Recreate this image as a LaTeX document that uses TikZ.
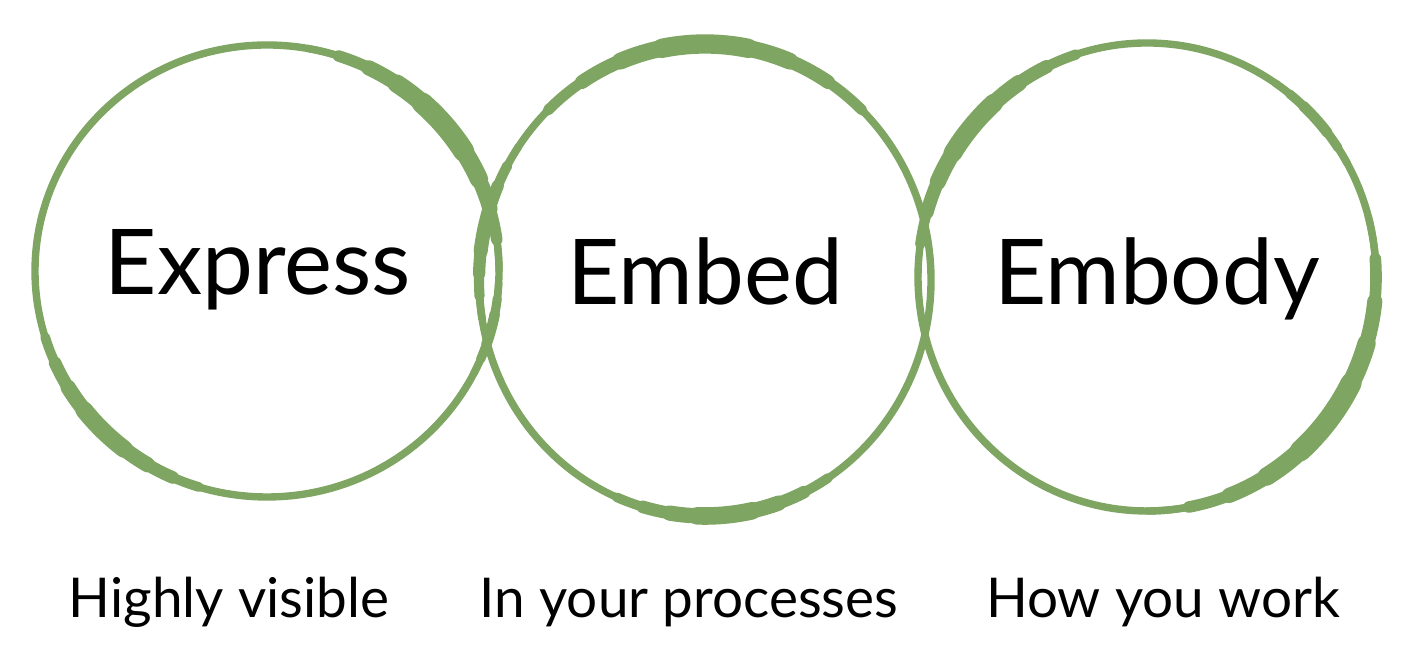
\documentclass[tikz,border=0pt]{standalone}
\usepackage{fontspec}
\setmainfont{Lato}
\usepackage{tikz}
\usetikzlibrary{calc}
\definecolor{leaf}{RGB}{127,165,98}

% one band of the brush ring, thicker in the middle
\newcommand{\band}[6]{%
  \pgfmathsetmacro\bd{(#5-#4)/10}
  \foreach \k/\f in {0/0.35,1/0.55,2/0.72,3/0.87,4/1}{
    \draw[leaf, line width=\f*#6, line cap=round]
      (#1) ++({#2*cos(#4+\k*\bd)},{#3*sin(#4+\k*\bd)})
      arc[start angle=#4+\k*\bd, end angle=#5-\k*\bd, x radius=#2, y radius=#3];
  }}

\tikzset{
  ring/.style={draw=leaf, line width=2.1pt},
  word/.style={font=\fontsize{25.8}{30}\selectfont, anchor=base, inner sep=0pt},
  note/.style={font=\fontsize{15.6}{18}\selectfont, anchor=base, inner sep=0pt}
}

\begin{document}
\begin{tikzpicture}[x=0.01cm, y=0.01cm]
  \useasboundingbox (0,0) rectangle (1404,662);
  \coordinate (c1) at (267,391);
  \coordinate (c2) at (705,382);
  \coordinate (c3) at (1147,385);

  % the three rings
  \draw[ring] (c1) ellipse [x radius=232, y radius=226];
  \draw[ring] (c2) ellipse [x radius=226, y radius=236];
  \draw[ring] (c3) ellipse [x radius=229, y radius=234];

  % thick brush strokes
  \band{c1}{232}{226}{0}{80}{6pt}
  \band{c1}{232}{226}{190}{260}{5pt}
  \band{c1}{232}{226}{-35}{5}{3pt}
  \band{c2}{226}{236}{35}{145}{5.5pt}
  \band{c2}{226}{236}{140}{195}{4pt}
  \band{c2}{226}{236}{240}{310}{5pt}
  \band{c3}{229}{234}{100}{180}{5.3pt}
  \band{c3}{229}{234}{-90}{15}{6pt}
  \band{c3}{229}{234}{20}{65}{3pt}

  % words in the rings
  \node[word] (express) at (258,367) {Express};
  \node[word] (embed) at (705,357) {Embed};
  \node[word] (embody) at (1157,357) {Embody};

  % notes below
  \node[note] (visible) at (229,44) {Highly visible};
  \node[note] (processes) at (689,44) {In your processes};
  \node[note] (work) at (1163,44) {How you work};
\end{tikzpicture}
\end{document}
